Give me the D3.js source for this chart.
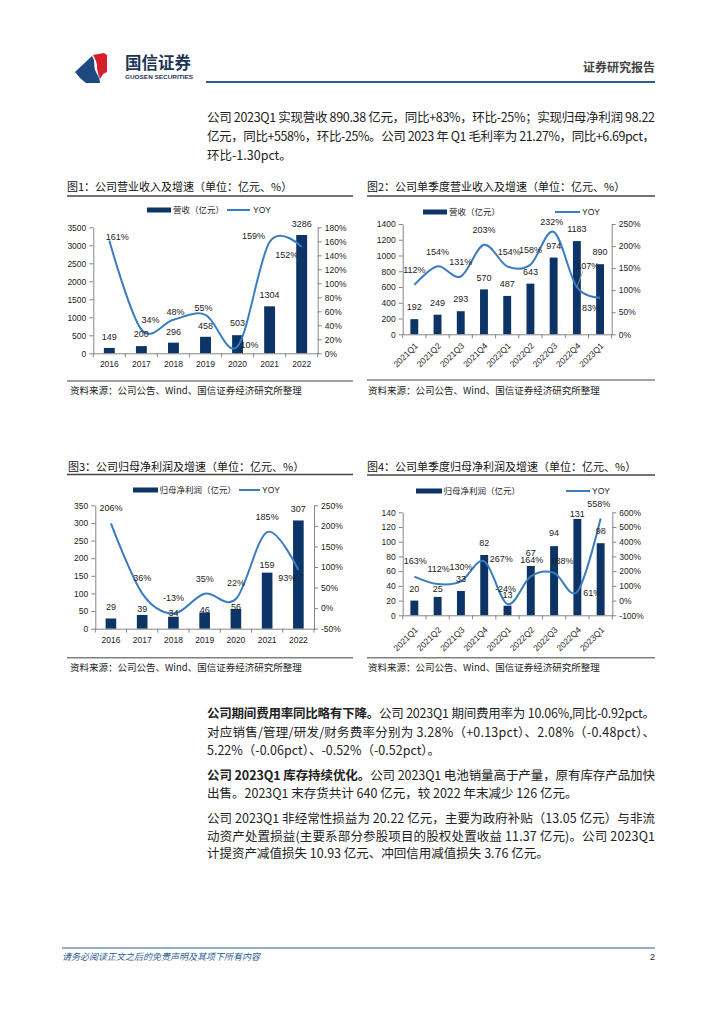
<!DOCTYPE html>
<html><head><meta charset="utf-8">
<script src="https://cdn.jsdelivr.net/npm/d3@7"></script>
<style>body{margin:0;background:#fff}svg{display:block}</style>
</head><body><svg id="page" width="724" height="1024"></svg>
<script>
// ---------- DATA ----------
const years = ['2016','2017','2018','2019','2020','2021','2022'];
const quarters = ['2021Q1','2021Q2','2021Q3','2021Q4','2022Q1','2022Q2','2022Q3','2022Q4','2023Q1'];

const revenueAnnual = [149, 200, 296, 458, 503, 1304, 3286];
const revenueAnnualYoy = [161, 34, 48, 55, 10, 159, 152];

const revenueQuarter = [192, 249, 293, 570, 487, 643, 974, 1183, 890];
const revenueQuarterYoy = [112, 154, 131, 203, 154, 158, 232, 107, 83];

const profitAnnual = [29, 39, 34, 46, 56, 159, 307];
const profitAnnualYoy = [206, 36, -13, 35, 22, 185, 93];

const profitQuarter = [20, 25, 33, 82, 13, 67, 94, 131, 98];
const profitQuarterYoy = [163, 112, 130, 267, -24, 164, 188, 61, 558];

const c1LeftTicks = [0,500,1000,1500,2000,2500,3000,3500];
const c1RightTicks = [0,20,40,60,80,100,120,140,160,180];
const c2LeftTicks = [0,200,400,600,800,1000,1200,1400];
const c2RightTicks = [0,50,100,150,200,250];
const c3LeftTicks = [0,50,100,150,200,250,300,350];
const c3RightTicks = [-50,0,50,100,150,200,250];
const c4LeftTicks = [0,20,40,60,80,100,120,140];
const c4RightTicks = [-100,0,100,200,300,400,500,600];

// ---------- STYLE ----------
const CJK = "'Noto Sans CJK SC','Noto Sans',sans-serif";
const NUM = "'Liberation Sans',Arial,sans-serif";
const BAR = '#0c3466';
const LINE = '#3a7cc0';
const AXIS = '#858585';
const svg = d3.select('#page');

// ---------- HEADER ----------
svg.append('path').attr('d','M75,72 L92,56 C96,62 93,67 96,72 C98,76 100,78 100,83 L86,83 L80,78 Z').attr('fill','#1c4a80');
svg.append('path').attr('d','M93,55 L104,53 L107,55 L107,72 L103,74 L100,79 C98,74 97,70 97,66 C97,62 95,59 93,55 Z').attr('fill','#d51f2b');
svg.append('text').attr('x',125).attr('y',63).attr('dy','0.36em').attr('font-family',CJK).attr('font-weight',700).attr('font-size',16.5).attr('fill','#1e3556').text('国信证券');
svg.append('text').attr('x',125).attr('y',77).attr('dy','0.36em').attr('font-family',NUM).attr('font-weight',700).attr('font-size',6).attr('fill','#1e3556').attr('textLength',68).attr('lengthAdjust','spacingAndGlyphs').text('GUOSEN SECURITIES');
svg.append('text').attr('x',655).attr('y',68).attr('dy','0.36em').attr('text-anchor','end').attr('font-family',CJK).attr('font-weight',700).attr('font-size',12).attr('fill','#444').text('证券研究报告');
svg.append('line').attr('x1',206).attr('x2',655).attr('y1',82).attr('y2',82).attr('stroke','#2d5d96').attr('stroke-width',2);

// ---------- BODY TEXT ----------
function textLine(x, yc, parts, width) {
  const t = svg.append('text').attr('x',x).attr('y',yc).attr('dy','0.36em')
    .attr('font-family',CJK).attr('font-size',12.5).attr('fill','#222');
  parts.forEach(p => t.append('tspan').attr('font-weight', p[1] ? 700 : 400).text(p[0]));
  if (width) t.attr('textLength', width).attr('lengthAdjust','spacing');
}
textLine(207,117,[['公司 2023Q1 实现营收 890.38 亿元，同比+83%，环比-25%；实现归母净利润 98.22']],448);
textLine(207,136,[['亿元，同比+558%，环比-25%。公司 2023 年 Q1 毛利率为 21.27%，同比+6.69pct，']],448);
textLine(207,155,[['环比-1.30pct。']]);

textLine(207,713,[['公司期间费用率同比略有下降。',1],['公司 2023Q1 期间费用率为 10.06%,同比-0.92pct。']],448);
textLine(207,732,[['对应销售/管理/研发/财务费率分别为 3.28%（+0.13pct）、2.08%（-0.48pct）、']],448);
textLine(207,750,[['5.22%（-0.06pct）、-0.52%（-0.52pct）。']]);
textLine(207,775,[['公司 2023Q1 库存持续优化。',1],['公司 2023Q1 电池销量高于产量，原有库存产品加快']],448);
textLine(207,793,[['出售。2023Q1 末存货共计 640 亿元，较 2022 年末减少 126 亿元。']]);
textLine(207,818,[['公司 2023Q1 非经常性损益为 20.22 亿元，主要为政府补贴（13.05 亿元）与非流']],448);
textLine(207,836,[['动资产处置损益(主要系部分参股项目的股权处置收益 11.37 亿元)。公司 2023Q1']],448);
textLine(207,853,[['计提资产减值损失 10.93 亿元、冲回信用减值损失 3.76 亿元。']]);

// ---------- FOOTER ----------
svg.append('line').attr('x1',62).attr('x2',655).attr('y1',948).attr('y2',948).attr('stroke','#2d5d96').attr('stroke-width',1);
svg.append('text').attr('x',62).attr('y',957).attr('dy','0.36em').attr('font-family',CJK).attr('font-size',9).attr('font-style','italic').attr('fill','#2d5d96').text('请务必阅读正文之后的免责声明及其项下所有内容');
svg.append('text').attr('x',655).attr('y',957).attr('dy','0.36em').attr('text-anchor','end').attr('font-family',NUM).attr('font-size',9).attr('fill','#222').text('2');

// ---------- CHART FUNCTION ----------
function drawChart(o) {
  const g = svg.append('g');
  g.append('text').attr('x',o.titleX).attr('y',o.titleY).attr('dy','0.36em').attr('font-family',CJK).attr('font-size',11).attr('fill','#111').text(o.title);
  g.append('line').attr('x1',o.ruleX1).attr('x2',o.ruleX2).attr('y1',o.ruleTop).attr('y2',o.ruleTop).attr('stroke','#444').attr('stroke-width',1.3);
  g.append('line').attr('x1',o.ruleX1).attr('x2',o.ruleX2).attr('y1',o.ruleBottom).attr('y2',o.ruleBottom).attr('stroke','#808080').attr('stroke-width',1.5);
  g.append('text').attr('x',o.srcX).attr('y',o.srcY).attr('dy','0.36em').attr('font-family',CJK).attr('font-size',9.5).attr('fill','#222').text('资料来源：公司公告、Wind、国信证券经济研究所整理');

  const x = d3.scaleBand().domain(o.cats).range([o.left, o.right]);
  const yL = d3.scaleLinear().domain(o.leftDomain).range([o.bottom, o.top]);
  const yR = d3.scaleLinear().domain(o.rightDomain).range([o.bottom, o.top]);
  const cx = i => x(o.cats[i]) + x.bandwidth() / 2;
  const bw = x.bandwidth() * 0.34;

  // bars
  g.append('g').selectAll('rect').data(o.bars).join('rect')
    .attr('x',(d,i)=>cx(i)-bw/2).attr('y',d=>yL(d)).attr('width',bw)
    .attr('height',d=>yL(0)-yL(d)).attr('fill',BAR);

  // axes
  const styleAxis = sel => {
    sel.selectAll('path.domain').attr('stroke',AXIS);
    sel.selectAll('line').attr('stroke',AXIS);
    sel.selectAll('text').attr('font-family',NUM).attr('font-size',8.5).attr('fill','#222');
  };
  g.append('g').attr('transform',`translate(${o.left},0)`)
    .call(d3.axisLeft(yL).tickValues(o.leftTicks).tickSize(4).tickSizeOuter(0).tickPadding(3).tickFormat(d3.format('d')))
    .call(styleAxis);
  g.append('g').attr('transform',`translate(${o.right},0)`)
    .call(d3.axisRight(yR).tickValues(o.rightTicks).tickSize(4).tickSizeOuter(0).tickPadding(3).tickFormat(d=>d+'%'))
    .call(styleAxis);
  const axB = g.append('g').attr('transform',`translate(0,${o.bottom})`)
    .call(d3.axisBottom(x).tickSize(0).tickSizeOuter(0).tickPadding(o.xPad))
    .call(styleAxis);
  axB.selectAll('.tick line').remove();
  axB.append('g').selectAll('line').data(d3.range(o.cats.length + 1)).join('line')
    .attr('x1',i=>o.left + i * x.step()).attr('x2',i=>o.left + i * x.step())
    .attr('y1',0).attr('y2',4).attr('stroke',AXIS);
  if (o.rotate) {
    axB.selectAll('.tick text').attr('text-anchor','end').attr('x',0).attr('y',0).attr('dy','0.35em')
      .attr('transform',`translate(2,${o.xPad}) rotate(-45)`);
  }

  // line
  const line = d3.line().x((d,i)=>cx(i)).y(d=>yR(d)).curve(d3.curveCardinal.tension(0));
  g.append('path').datum(o.yoy).attr('d',line).attr('fill','none').attr('stroke',LINE).attr('stroke-width',2);

  // leader line
  if (o.leader !== undefined) {
    const i = o.leader;
    g.append('line').attr('x1',cx(i)+o.yoyNudge[i][0]-5).attr('y1',yR(o.yoy[i])+o.yoyNudge[i][1]+5)
      .attr('x2',cx(i)).attr('y2',yR(o.yoy[i])).attr('stroke','#999').attr('stroke-width',0.8);
  }

  // labels
  g.append('g').selectAll('text').data(o.bars).join('text')
    .attr('x',(d,i)=>cx(i)).attr('y',(d,i)=>yL(d)-o.barGap[i]).attr('dy','0.36em')
    .attr('text-anchor','middle').attr('font-family',NUM).attr('font-size',9).attr('fill','#222').text(d=>d);
  g.append('g').selectAll('text').data(o.yoy).join('text')
    .attr('x',(d,i)=>cx(i)+o.yoyNudge[i][0]).attr('y',(d,i)=>yR(d)+o.yoyNudge[i][1]).attr('dy','0.36em')
    .attr('text-anchor','middle').attr('font-family',NUM).attr('font-size',9).attr('fill','#222').text(d=>d+'%');

  // legend
  const L = o.legend;
  g.append('rect').attr('x',L.r1).attr('y',L.y-2.5).attr('width',L.r2-L.r1).attr('height',5).attr('fill',BAR);
  g.append('text').attr('x',L.t1).attr('y',L.y).attr('dy','0.36em').attr('font-family',CJK).attr('font-size',8.5).attr('fill','#222').text(o.barName);
  g.append('line').attr('x1',L.l1).attr('x2',L.l2).attr('y1',L.y).attr('y2',L.y).attr('stroke',LINE).attr('stroke-width',2);
  g.append('text').attr('x',L.t2).attr('y',L.y).attr('dy','0.36em').attr('font-family',NUM).attr('font-size',8.5).attr('fill','#222').text('YOY');
}

drawChart({
  title:'图1：公司营业收入及增速（单位：亿元、%）', titleX:67, titleY:187, ruleX1:67, ruleX2:353, ruleTop:196, ruleBottom:381, srcX:70, srcY:391,
  cats:years, bars:revenueAnnual, yoy:revenueAnnualYoy, barName:'营收（亿元）',
  left:93.3, right:317.7, top:227.3, bottom:353.3, leftDomain:[0,3500], rightDomain:[0,180],
  leftTicks:c1LeftTicks, rightTicks:c1RightTicks, xPad:8, rotate:false,
  barGap:[11,12,11,11,12,12,11],
  yoyNudge:[[8,-4],[9,-10],[2,-8],[-2,-7],[12,-2],[-16,-6],[-15,8]],
  legend:{r1:147,r2:171,y:210,t1:173,l1:227,l2:250,t2:253}
});
drawChart({
  title:'图2：公司单季度营业收入及增速（单位：亿元、%）', titleX:367, titleY:187, ruleX1:367, ruleX2:655, ruleTop:196, ruleBottom:380, srcX:368, srcY:391,
  cats:quarters, bars:revenueQuarter, yoy:revenueQuarterYoy, barName:'营收（亿元）',
  left:402.7, right:611.7, top:224, bottom:334.3, leftDomain:[0,1400], rightDomain:[0,250],
  leftTicks:c2LeftTicks, rightTicks:c2RightTicks, xPad:10, rotate:true,
  barGap:[12,12,12,12,12,12,12,12,12],
  yoyNudge:[[0,-15],[0,-15],[0,-15],[0,-15],[2,-15],[0,-15],[-2,-10],[11,-21],[-9,10]],
  leader:7,
  legend:{r1:423,r2:447,y:212,t1:449,l1:555,l2:580,t2:582}
});
drawChart({
  title:'图3：公司归母净利润及增速（单位：亿元、%）', titleX:68, titleY:467, ruleX1:67, ruleX2:353, ruleTop:474.5, ruleBottom:657.7, srcX:70, srcY:668,
  cats:years, bars:profitAnnual, yoy:profitAnnualYoy, barName:'归母净利润（亿元）',
  left:95.3, right:314, top:505.3, bottom:628.7, leftDomain:[0,350], rightDomain:[-50,250],
  leftTicks:c3LeftTicks, rightTicks:c3RightTicks, xPad:8, rotate:false,
  barGap:[12,6,3.5,2.5,2.5,8,11.5],
  yoyNudge:[[0,-16],[0,-16],[0,-16],[0,-15],[0,-16],[0,-15],[-11,8]],
  legend:{r1:133,r2:158,y:490,t1:159.5,l1:239,l2:260,t2:262}
});
drawChart({
  title:'图4：公司单季度归母净利润及增速（单位：亿元、%）', titleX:367, titleY:467, ruleX1:367, ruleX2:655, ruleTop:475, ruleBottom:657.7, srcX:368, srcY:668,
  cats:quarters, bars:profitQuarter, yoy:profitQuarterYoy, barName:'归母净利润（亿元）',
  left:402.7, right:612.3, top:512.3, bottom:615.3, leftDomain:[0,140], rightDomain:[-100,600],
  leftTicks:c4LeftTicks, rightTicks:c4RightTicks, xPad:13, rotate:true,
  barGap:[12,8,12,12,11,13,13,5,12],
  yoyNudge:[[1,-16],[1,-15],[0,-15],[17,-3],[-2,-15],[1,-17],[8,-12],[15,1],[-2,-15]],
  legend:{r1:416,r2:442,y:491,t1:443.5,l1:566,l2:590,t2:592}
});
</script></body></html>
